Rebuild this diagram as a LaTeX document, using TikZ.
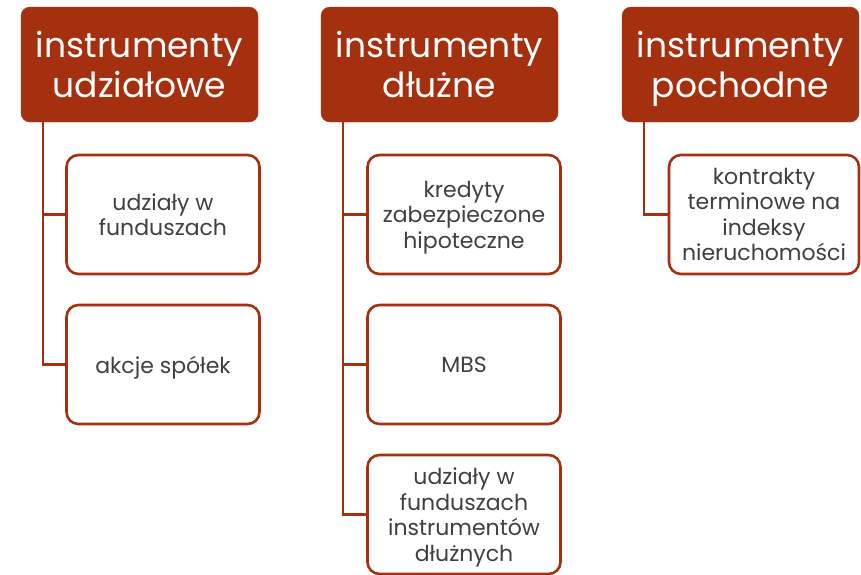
\documentclass[tikz,border=0pt]{standalone}
\usepackage{amsmath}
\usepackage{fontspec}
\setmainfont{Poppins}
\definecolor{brick}{HTML}{A5300F}
\definecolor{txt}{HTML}{404040}
\newcommand{\ph}{\vphantom{dp}}
\newcommand{\lastline}[1]{\vphantom{d}\smash[b]{#1}}
\begin{document}
\begin{tikzpicture}[x=1pt,y=-1pt,
  head/.style={draw=brick,fill=brick,rounded corners=9pt,minimum width=237pt,minimum height=115pt,
    text=white,align=center,font=\fontsize{34.5}{40}\selectfont,inner sep=0pt},
  leaf/.style={draw=brick,line width=2.6pt,fill=white,rounded corners=12pt,minimum width=193pt,minimum height=119pt,
    text=txt,align=center,font=\fontsize{22}{25.5}\selectfont,inner sep=0pt},
  conn/.style={draw=brick,line width=2.6pt}]
\useasboundingbox (0,0) rectangle (861,574);
\node[head] (h1) at (139.5,64.5) {\ph instrumenty\\\lastline{udziałowe}};
\node[head] (h2) at (439.5,64.5) {\ph instrumenty\\\lastline{dłużne}};
\node[head] (h3) at (740.5,64.5) {\ph instrumenty\\\lastline{pochodne}};
\node[leaf] (a1) at (163,214.5) {\ph udziały w\\\lastline{funduszach}};
\node[leaf] (a2) at (163,364.5) {\lastline{akcje spółek}};
\node[leaf] (b1) at (464,214.5) {\ph kredyty\\\ph zabezpieczone\\\lastline{hipoteczne}};
\node[leaf] (b2) at (464,364.5) {\lastline{MBS}};
\node[leaf] (b3) at (464,514.5) {\ph udziały w\\\ph funduszach\\\ph instrumentów\\\lastline{dłużnych}};
\node[leaf,minimum width=190pt] (c1) at (764,214.5) {\ph kontrakty\\\ph terminowe na\\\ph indeksy\\\lastline{nieruchomości}};
\coordinate (s1) at ([xshift=22pt]h1.south west);
\coordinate (s2) at ([xshift=22pt]h2.south west);
\coordinate (s3) at ([xshift=22pt]h3.south west);
\draw[conn] (s1) |- (a2.west);
\draw[conn] (s1) |- (a1.west);
\draw[conn] (s2) |- (b3.west);
\draw[conn] (s2) |- (b2.west);
\draw[conn] (s2) |- (b1.west);
\draw[conn] (s3) |- (c1.west);
\end{tikzpicture}
\end{document}
